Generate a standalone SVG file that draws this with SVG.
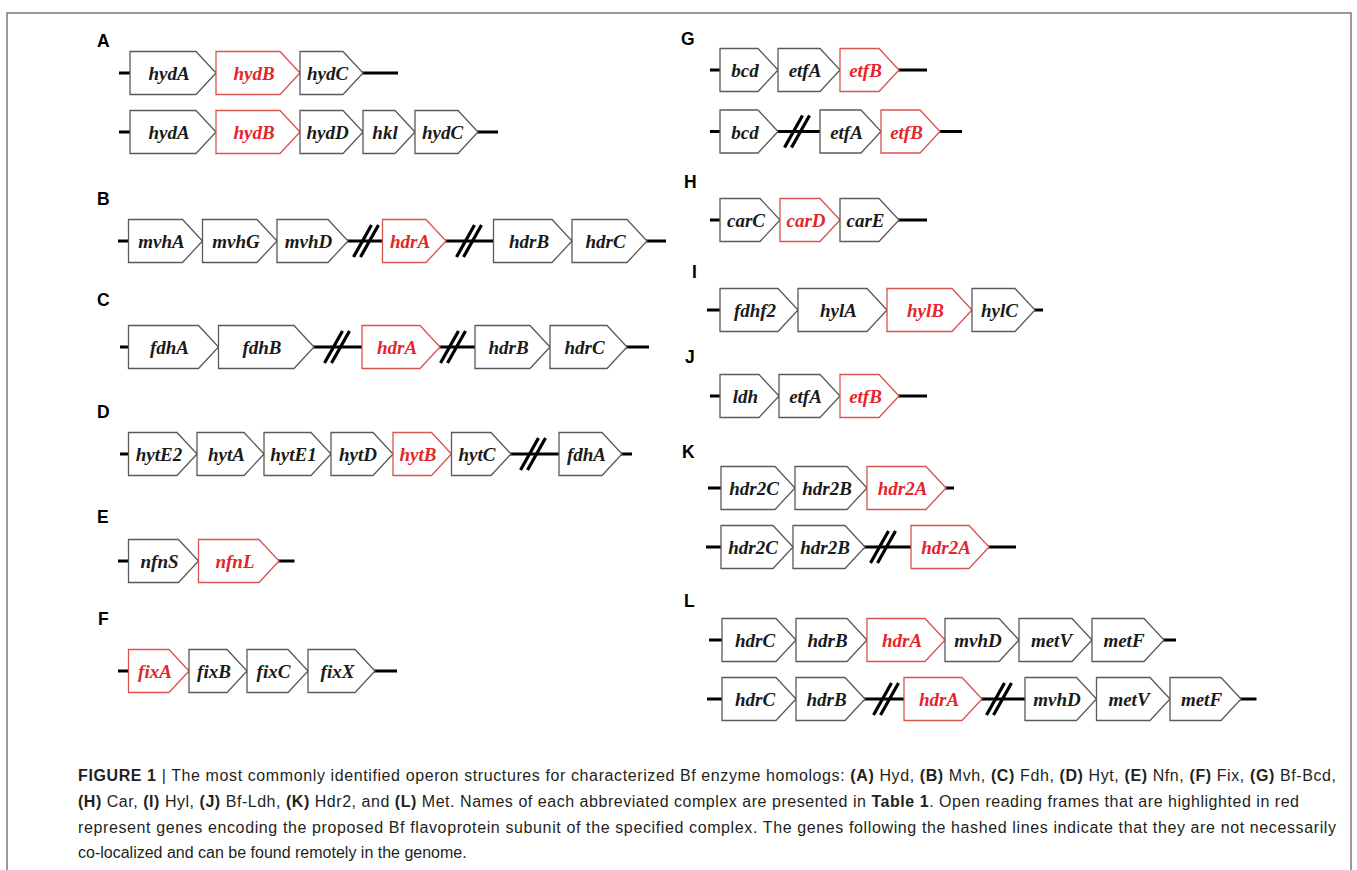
<svg xmlns="http://www.w3.org/2000/svg" width="1357" height="870" viewBox="0 0 1357 870">
<style>
.g path{fill:#fff;stroke:#5a5a5a;stroke-width:1.3}
.r path{stroke:#d9534f}
.g text{font-family:"Liberation Serif","Times New Roman",serif;font-weight:bold;font-style:italic;font-size:19px;text-anchor:middle;fill:#1a1a1a}
.r text{fill:#e3262b}
.bb{stroke:#000;stroke-width:3;fill:none}
.hash{stroke:#000;stroke-width:3.2;fill:none}
.lab{font-family:"Liberation Sans",Arial,sans-serif;font-weight:bold;font-size:17.5px;fill:#000}
.cap{font-family:"Liberation Sans",Arial,sans-serif;font-size:16px;fill:#231f20}
.cap .b{font-weight:bold}
</style>
<rect x="7" y="13" width="1344" height="880" fill="#fff" stroke="#666" stroke-width="1.3"/>
<g id="connectors">
<path class="bb" d="M119,73H398 M119,132H498 M118,241H666 M120,347H649 M120,454H632 M118,561H294.5 M118,671H397 M710,70H927 M710,131.5H962 M710,220H927 M707,310H1043 M710,396H927 M708,488H954 M706,547H1016 M709,640H1176 M707,699H1256.5"/>
<path class="hash" d="M353.5,257L371.5,225M360.5,257L378.5,225 M456.5,257L474.5,225M463.5,257L481.5,225 M324.5,363L342.5,331M331.5,363L349.5,331 M440.5,363L458.5,331M447.5,363L465.5,331 M520.5,470L538.5,438M527.5,470L545.5,438 M784.5,147.5L802.5,115.5M791.5,147.5L809.5,115.5 M870.5,563L888.5,531M877.5,563L895.5,531 M873.5,715L891.5,683M880.5,715L898.5,683 M986.5,715L1004.5,683M993.5,715L1011.5,683"/>
</g>
<g id="labels">
<text class="lab" x="97" y="47">A</text>
<text class="lab" x="97" y="205">B</text>
<text class="lab" x="97" y="306">C</text>
<text class="lab" x="97" y="418">D</text>
<text class="lab" x="97" y="523">E</text>
<text class="lab" x="98" y="625">F</text>
<text class="lab" x="681" y="45">G</text>
<text class="lab" x="684" y="188">H</text>
<text class="lab" x="692" y="278">I</text>
<text class="lab" x="685" y="363">J</text>
<text class="lab" x="682" y="458">K</text>
<text class="lab" x="684" y="607">L</text>
</g>
<g id="A1-hydA" class="g"><path d="M130,51.5H196L216,73L196,94.5H130Z"/><text x="169" y="80">hydA</text></g>
<g id="A1-hydB" class="g r"><path d="M216,51.5H280L300,73L280,94.5H216Z"/><text x="254" y="80">hydB</text></g>
<g id="A1-hydC" class="g"><path d="M300,51.5H343L363,73L343,94.5H300Z"/><text x="327.5" y="80">hydC</text></g>
<g id="A2-hydA" class="g"><path d="M130,110.5H196L216,132L196,153.5H130Z"/><text x="169" y="139">hydA</text></g>
<g id="A2-hydB" class="g r"><path d="M216,110.5H280L300,132L280,153.5H216Z"/><text x="254" y="139">hydB</text></g>
<g id="A2-hydD" class="g"><path d="M300,110.5H343L363,132L343,153.5H300Z"/><text x="327.5" y="139">hydD</text></g>
<g id="A2-hkl" class="g"><path d="M363,110.5H395L415,132L395,153.5H363Z"/><text x="385" y="139">hkl</text></g>
<g id="A2-hydC" class="g"><path d="M415,110.5H458L478,132L458,153.5H415Z"/><text x="442.5" y="139">hydC</text></g>
<g id="B-mvhA" class="g"><path d="M128.5,219.5H182.5L202.5,241L182.5,262.5H128.5Z"/><text x="161.5" y="248">mvhA</text></g>
<g id="B-mvhG" class="g"><path d="M202.5,219.5H257L277,241L257,262.5H202.5Z"/><text x="236" y="248">mvhG</text></g>
<g id="B-mvhD" class="g"><path d="M277,219.5H328L348,241L328,262.5H277Z"/><text x="308.5" y="248">mvhD</text></g>
<g id="B-hdrA" class="g r"><path d="M382.5,219.5H426L446,241L426,262.5H382.5Z"/><text x="410" y="248">hdrA</text></g>
<g id="B-hdrB" class="g"><path d="M493.5,219.5H552L572,241L552,262.5H493.5Z"/><text x="529" y="248">hdrB</text></g>
<g id="B-hdrC" class="g"><path d="M572,219.5H627L647,241L627,262.5H572Z"/><text x="605.5" y="248">hdrC</text></g>
<g id="C-fdhA" class="g"><path d="M128.5,325.5H198.5L218.5,347L198.5,368.5H128.5Z"/><text x="169.5" y="354">fdhA</text></g>
<g id="C-fdhB" class="g"><path d="M218.5,325.5H294L314,347L294,368.5H218.5Z"/><text x="262" y="354">fdhB</text></g>
<g id="C-hdrA" class="g r"><path d="M362,325.5H420L440,347L420,368.5H362Z"/><text x="397" y="354">hdrA</text></g>
<g id="C-hdrB" class="g"><path d="M475,325.5H530L550,347L530,368.5H475Z"/><text x="508.5" y="354">hdrB</text></g>
<g id="C-hdrC" class="g"><path d="M550,325.5H607L627,347L607,368.5H550Z"/><text x="584.5" y="354">hdrC</text></g>
<g id="D-hytE2" class="g"><path d="M128.5,432.5H177L197,454L177,475.5H128.5Z"/><text x="159" y="461">hytE2</text></g>
<g id="D-hytA" class="g"><path d="M197,432.5H244L264,454L244,475.5H197Z"/><text x="226.5" y="461">hytA</text></g>
<g id="D-hytE1" class="g"><path d="M264,432.5H311L331,454L311,475.5H264Z"/><text x="293.5" y="461">hytE1</text></g>
<g id="D-hytD" class="g"><path d="M331,432.5H373L393,454L373,475.5H331Z"/><text x="358" y="461">hytD</text></g>
<g id="D-hytB" class="g r"><path d="M393,432.5H431.5L451.5,454L431.5,475.5H393Z"/><text x="418" y="461">hytB</text></g>
<g id="D-hytC" class="g"><path d="M451.5,432.5H491L511,454L491,475.5H451.5Z"/><text x="477" y="461">hytC</text></g>
<g id="D-fdhA" class="g"><path d="M559,432.5H602L622,454L602,475.5H559Z"/><text x="586.5" y="461">fdhA</text></g>
<g id="E-nfnS" class="g"><path d="M128.5,539.5H178.5L198.5,561L178.5,582.5H128.5Z"/><text x="159.5" y="568">nfnS</text></g>
<g id="E-nfnL" class="g r"><path d="M198.5,539.5H259L279,561L259,582.5H198.5Z"/><text x="235" y="568">nfnL</text></g>
<g id="F-fixA" class="g r"><path d="M128.5,649.5H169L189,671L169,692.5H128.5Z"/><text x="155" y="678">fixA</text></g>
<g id="F-fixB" class="g"><path d="M189,649.5H227L247,671L227,692.5H189Z"/><text x="214" y="678">fixB</text></g>
<g id="F-fixC" class="g"><path d="M247,649.5H288L308,671L288,692.5H247Z"/><text x="273.5" y="678">fixC</text></g>
<g id="F-fixX" class="g"><path d="M308,649.5H355L375,671L355,692.5H308Z"/><text x="337.5" y="678">fixX</text></g>
<g id="G1-bcd" class="g"><path d="M720,48.5H758L778,70L758,91.5H720Z"/><text x="745" y="77">bcd</text></g>
<g id="G1-etfA" class="g"><path d="M778,48.5H820L840,70L820,91.5H778Z"/><text x="805" y="77">etfA</text></g>
<g id="G1-etfB" class="g r"><path d="M840,48.5H879L899,70L879,91.5H840Z"/><text x="865.5" y="77">etfB</text></g>
<g id="G2-bcd" class="g"><path d="M720,110H758L778,131.5L758,153H720Z"/><text x="745" y="138.5">bcd</text></g>
<g id="G2-etfA" class="g"><path d="M820,110H861L881,131.5L861,153H820Z"/><text x="846.5" y="138.5">etfA</text></g>
<g id="G2-etfB" class="g r"><path d="M881,110H920L940,131.5L920,153H881Z"/><text x="906.5" y="138.5">etfB</text></g>
<g id="H-carC" class="g"><path d="M720,198.5H760L780,220L760,241.5H720Z"/><text x="746" y="227">carC</text></g>
<g id="H-carD" class="g r"><path d="M780,198.5H820L840,220L820,241.5H780Z"/><text x="806" y="227">carD</text></g>
<g id="H-carE" class="g"><path d="M840,198.5H879L899,220L879,241.5H840Z"/><text x="865.5" y="227">carE</text></g>
<g id="I-fdhf2" class="g"><path d="M720,288.5H778L798,310L778,331.5H720Z"/><text x="755" y="317">fdhf2</text></g>
<g id="I-hylA" class="g"><path d="M798,288.5H867L887,310L867,331.5H798Z"/><text x="838.5" y="317">hylA</text></g>
<g id="I-hylB" class="g r"><path d="M887,288.5H952L972,310L952,331.5H887Z"/><text x="925.5" y="317">hylB</text></g>
<g id="I-hylC" class="g"><path d="M972,288.5H1015L1035,310L1015,331.5H972Z"/><text x="999.5" y="317">hylC</text></g>
<g id="J-ldh" class="g"><path d="M720,374.5H759L779,396L759,417.5H720Z"/><text x="745.5" y="403">ldh</text></g>
<g id="J-etfA" class="g"><path d="M779,374.5H820L840,396L820,417.5H779Z"/><text x="805.5" y="403">etfA</text></g>
<g id="J-etfB" class="g r"><path d="M840,374.5H879L899,396L879,417.5H840Z"/><text x="865.5" y="403">etfB</text></g>
<g id="K1-hdr2C" class="g"><path d="M721,466.5H775L795,488L775,509.5H721Z"/><text x="754" y="495">hdr2C</text></g>
<g id="K1-hdr2B" class="g"><path d="M795,466.5H847L867,488L847,509.5H795Z"/><text x="827" y="495">hdr2B</text></g>
<g id="K1-hdr2A" class="g r"><path d="M867,466.5H926L946,488L926,509.5H867Z"/><text x="902.5" y="495">hdr2A</text></g>
<g id="K2-hdr2C" class="g"><path d="M721,525.5H773L793,547L773,568.5H721Z"/><text x="753" y="554">hdr2C</text></g>
<g id="K2-hdr2B" class="g"><path d="M793,525.5H845L865,547L845,568.5H793Z"/><text x="825" y="554">hdr2B</text></g>
<g id="K2-hdr2A" class="g r"><path d="M911,525.5H969L989,547L969,568.5H911Z"/><text x="946" y="554">hdr2A</text></g>
<g id="L1-hdrC" class="g"><path d="M722,618.5H776L796,640L776,661.5H722Z"/><text x="755" y="647">hdrC</text></g>
<g id="L1-hdrB" class="g"><path d="M796,618.5H847L867,640L847,661.5H796Z"/><text x="827.5" y="647">hdrB</text></g>
<g id="L1-hdrA" class="g r"><path d="M867,618.5H925L945,640L925,661.5H867Z"/><text x="902" y="647">hdrA</text></g>
<g id="L1-mvhD" class="g"><path d="M945,618.5H999L1019,640L999,661.5H945Z"/><text x="978" y="647">mvhD</text></g>
<g id="L1-metV" class="g"><path d="M1019,618.5H1072L1092,640L1072,661.5H1019Z"/><text x="1051.5" y="647">metV</text></g>
<g id="L1-metF" class="g"><path d="M1092,618.5H1144L1164,640L1144,661.5H1092Z"/><text x="1124" y="647">metF</text></g>
<g id="L2-hdrC" class="g"><path d="M722,677.5H776L796,699L776,720.5H722Z"/><text x="755" y="706">hdrC</text></g>
<g id="L2-hdrB" class="g"><path d="M796,677.5H845L865,699L845,720.5H796Z"/><text x="826.5" y="706">hdrB</text></g>
<g id="L2-hdrA" class="g r"><path d="M904,677.5H962L982,699L962,720.5H904Z"/><text x="939" y="706">hdrA</text></g>
<g id="L2-mvhD" class="g"><path d="M1025,677.5H1076.5L1096.5,699L1076.5,720.5H1025Z"/><text x="1057" y="706">mvhD</text></g>
<g id="L2-metV" class="g"><path d="M1096.5,677.5H1150L1170,699L1150,720.5H1096.5Z"/><text x="1129" y="706">metV</text></g>
<g id="L2-metF" class="g"><path d="M1170,677.5H1221L1241,699L1221,720.5H1170Z"/><text x="1201.5" y="706">metF</text></g>
<g id="caption" class="cap">
<text x="78" y="781" textLength="1258" lengthAdjust="spacing"><tspan class="b">FIGURE 1</tspan> | The most commonly identified operon structures for characterized Bf enzyme homologs: <tspan class="b">(A)</tspan> Hyd, <tspan class="b">(B)</tspan> Mvh, <tspan class="b">(C)</tspan> Fdh, <tspan class="b">(D)</tspan> Hyt, <tspan class="b">(E)</tspan> Nfn, <tspan class="b">(F)</tspan> Fix, <tspan class="b">(G)</tspan> Bf-Bcd,</text>
<text x="78" y="807" textLength="1221" lengthAdjust="spacing"><tspan class="b">(H)</tspan> Car, <tspan class="b">(I)</tspan> Hyl, <tspan class="b">(J)</tspan> Bf-Ldh, <tspan class="b">(K)</tspan> Hdr2, and <tspan class="b">(L)</tspan> Met. Names of each abbreviated complex are presented in <tspan class="b">Table 1</tspan>. Open reading frames that are highlighted in red</text>
<text x="78" y="833" textLength="1258" lengthAdjust="spacing">represent genes encoding the proposed Bf flavoprotein subunit of the specified complex. The genes following the hashed lines indicate that they are not necessarily</text>
<text x="78" y="858">co-localized and can be found remotely in the genome.</text>
</g>
</svg>
